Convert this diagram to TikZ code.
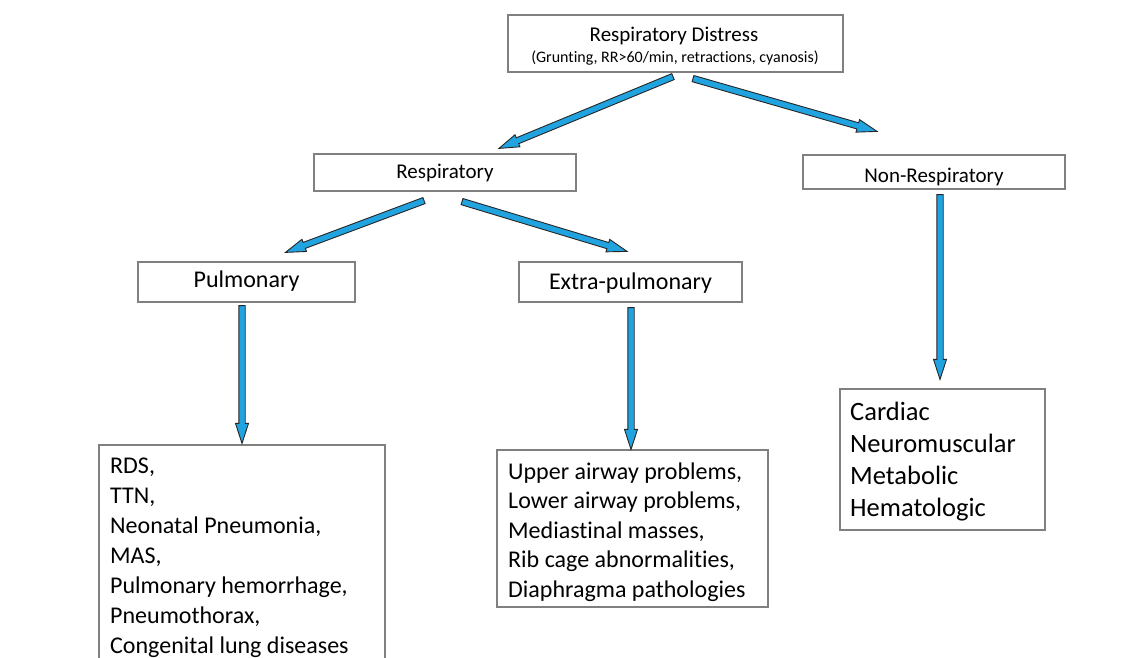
\documentclass[tikz,border=0pt]{standalone}
\usepackage{fontspec}
\setmainfont{Carlito}[Ligatures=NoCommon]
\usetikzlibrary{calc}
\definecolor{arrowblue}{RGB}{33,163,224}
\definecolor{boxgray}{RGB}{128,128,128}
\tikzset{
  box/.style={draw=boxgray, line width=1.2pt, fill=white, inner sep=0pt},
  barrow/.style={fill=arrowblue, draw=black!85, line width=0.9pt, line join=miter},
  lbl/.style={inner sep=0pt, text depth=0pt},
  listtext/.style={inner sep=0pt, align=left, anchor=base west},
}
\newcommand\blockarrow[2]{%
  \path (#1) coordinate (bas) (#2) coordinate (bat);
  \path ($(bat)!20pt!(bas)$) coordinate (bah);
  \draw[barrow] ($(bas)!3.2pt!90:(bat)$) -- ($(bah)!3.2pt!90:(bat)$) -- ($(bah)!6.5pt!90:(bat)$) -- (bat) -- ($(bah)!6.5pt!-90:(bat)$) -- ($(bah)!3.2pt!-90:(bat)$) -- ($(bas)!3.2pt!-90:(bat)$) -- cycle;
}
\begin{document}
\begin{tikzpicture}[x=1pt,y=-1pt]
\useasboundingbox (0,0) rectangle (1140,658);
\fill[white] (0,0) rectangle (1140,658);
\clip (0,0) rectangle (1140,658);

% boxes
\node[box, minimum width=335pt, minimum height=57pt] (top) at (675.5,43.5) {};
\node[inner sep=0pt, anchor=base, font=\fontsize{21}{25}\selectfont] (toptitle) at (674,42) {Respiratory Distress};
\node[inner sep=0pt, anchor=base, font=\fontsize{16}{19}\selectfont] (topsub) at (675,63) {(Grunting, RR>60/min, retractions, cyanosis)};

\node[box, lbl, text height=11.6pt, minimum width=262pt, minimum height=37pt, font=\fontsize{21}{25}\selectfont] (resp) at (445,172.5) {Respiratory};
\node[box, lbl, text height=20pt, minimum width=262pt, minimum height=34pt, font=\fontsize{21}{25}\selectfont] (nonresp) at (934,172) {Non-Respiratory};
\node[box, lbl, text height=11.4pt, minimum width=217pt, minimum height=40pt, font=\fontsize{24}{29}\selectfont] (pulm) at (246.5,282) {Pulmonary};
\node[box, lbl, text height=14.6pt, minimum width=223pt, minimum height=40pt, font=\fontsize{24}{29}\selectfont] (extra) at (630.5,282) {Extra-pulmonary};

\node[box, minimum width=286pt, minimum height=230pt] (plist) at (242,560) {};
\node[listtext, font=\fontsize{24}{30}\selectfont] (plisttext) at (110,653)
  {RDS,\\TTN,\\Neonatal Pneumonia,\\MAS,\\Pulmonary hemorrhage,\\Pneumothorax,\\Congenital lung diseases};

\node[box, minimum width=271pt, minimum height=157pt] (elist) at (632.5,528.5) {};
\node[listtext, font=\fontsize{24}{29.5}\selectfont] (elisttext) at (508,597)
  {Upper airway problems,\\Lower airway problems,\\Mediastinal masses,\\Rib cage abnormalities,\\Diaphragma pathologies};

\node[box, minimum width=205pt, minimum height=141pt] (nlist) at (942.5,459.5) {};
\node[listtext, font=\fontsize{26.5}{32}\selectfont] (nlisttext) at (850,516)
  {Cardiac\\Neuromuscular\\Metabolic\\Hematologic};

% arrows
\blockarrow{$(top.south)+(-2.5,4)$}{$(resp.north)+(54,-5)$}
\blockarrow{$(top.south)+(17.5,6)$}{$(nonresp.north)+(-57,-23)$}
\blockarrow{$(resp.south)+(-21,9)$}{$(pulm.north)+(39,-9)$}
\blockarrow{$(resp.south)+(17,10)$}{$(extra.north)+(-3.5,-10)$}
\blockarrow{$(pulm.south)+(-4.5,3)$}{$(plist.north)+(0,-1)$}
\blockarrow{$(extra.south)+(0.5,5)$}{$(elist.north)+(-1.5,0)$}
\blockarrow{$(nonresp.south)+(6,5)$}{$(nlist.north)+(-2.5,-9)$}
\end{tikzpicture}
\end{document}
